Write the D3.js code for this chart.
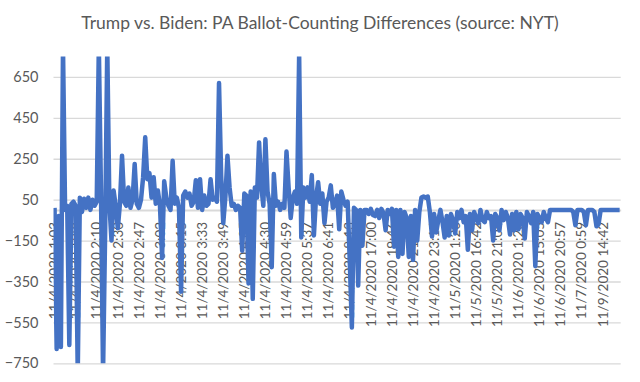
<!DOCTYPE html>
<html><head><meta charset="utf-8">
<script src="https://cdn.jsdelivr.net/npm/d3@7"></script>
<style>body{margin:0;background:#fff}</style>
</head><body>
<svg id="c" width="640" height="382"></svg>
<script>
const title = "Trump vs. Biden: PA Ballot-Counting Differences (source: NYT)";
const values = [
 10,-680,-30,-670,800,0,20,-660,30,40,
 20,-800,60,-10,55,10,60,0,50,20,
 40,800,100,-800,-100,800,30,-150,95,20,
 -90,30,265,40,20,110,10,50,225,30,
 10,50,160,355,150,180,60,160,30,95,
 20,-235,140,60,20,0,240,30,60,10,
 -400,70,90,60,80,20,40,145,10,150,
 0,70,20,30,150,50,60,40,620,170,
 -65,60,265,110,20,30,0,20,10,-200,
 80,70,-360,90,-435,110,60,330,120,20,
 345,90,30,-280,175,20,40,0,30,10,
 285,110,-40,60,90,30,760,-135,110,60,
 110,40,170,-125,60,135,30,80,-65,40,
 60,120,10,30,70,-95,90,50,20,40,
 -250,-575,10,0,-370,0,-175,0,0,-20,
 5,-25,-30,0,-40,5,-15,-100,0,-20,
 5,-180,0,-230,0,-215,-10,-40,-230,-30,
 -245,0,-150,-10,60,65,60,65,-10,-130,
 -20,-110,-50,0,-60,-135,-30,-125,-20,-50,
 -115,-10,-40,0,-60,-30,-195,-20,-100,-10,
 -40,-65,0,-50,-60,-10,-40,-30,-150,-20,
 -40,-100,0,-50,-10,-40,-120,-20,-100,-10,
 -95,-20,-40,-140,-10,-30,-65,-10,-275,-20,
 -40,-60,-10,-40,-60,0,0,0,0,0,
 0,0,0,0,0,0,-10,-75,0,0,
 0,-10,-75,0,0,0,-10,-80,-70,0,
 0,0,0,0,0,0,0,0,0
];
const tickLabels = [
 "11/4/2020 1:03","11/4/2020 1:48","11/4/2020 2:10","11/4/2020 2:30","11/4/2020 2:47",
 "11/4/2020 3:02","11/4/2020 3:15","11/4/2020 3:33","11/4/2020 3:49","11/4/2020 4:05",
 "11/4/2020 4:30","11/4/2020 4:59","11/4/2020 5:37","11/4/2020 6:41","11/4/2020 8:13",
 "11/4/2020 17:00","11/4/2020 19:46","11/4/2020 21:26","11/4/2020 23:14","11/5/2020 1:20",
 "11/5/2020 16:42","11/5/2020 21:04","11/6/2020 1:20","11/6/2020 15:05","11/6/2020 20:57",
 "11/7/2020 0:59","11/9/2020 14:42"
];
const yTicks = [-750,-550,-350,-150,50,250,450,650];
const labelEvery = 10;

const svg = d3.select("#c");
const x0 = 53.5, x1 = 620.7, yTop = 56.5, yBot = 363.3;
const x = d3.scaleBand().domain(d3.range(values.length)).range([x0, x1]);
const y = d3.scaleLinear().domain([-750, 750]).range([yBot, yTop]);
const cx = i => x(i) + x.bandwidth() / 2;
const font = "Lato, 'Open Sans', sans-serif";

svg.append("text").attr("x", 320).attr("y", 29).attr("text-anchor", "middle")
  .attr("font-family", font).attr("font-size", 17.5).attr("fill", "#595959").text(title);

// y axis + gridlines
const gy = svg.append("g").attr("transform", `translate(${x0},0)`)
  .call(d3.axisLeft(y).tickValues(yTicks).tickSize(-(x1 - x0)).tickPadding(15).tickFormat(d3.format("d")));
gy.select(".domain").remove();
gy.selectAll(".tick line").attr("stroke", "#d9d9d9").attr("stroke-width", 1.3);
gy.selectAll(".tick text").attr("font-family", font).attr("font-size", 14.5).attr("fill", "#595959");

// x axis at zero
const gx = svg.append("g").attr("transform", `translate(0,${y(0)})`)
  .call(d3.axisBottom(x).tickValues(d3.range(0, values.length, labelEvery).filter(i => i / labelEvery < tickLabels.length))
    .tickSize(0).tickSizeOuter(0).tickFormat(i => tickLabels[i / labelEvery]));
gx.select(".domain").attr("stroke", "#d9d9d9").attr("stroke-width", 2);
gx.selectAll(".tick text").attr("transform", "rotate(-90)").attr("text-anchor", "end")
  .attr("x", -12).attr("y", 0).attr("dy", "0.35em")
  .attr("font-family", font).attr("font-size", 13.5).attr("fill", "#595959");

// clip + line
svg.append("clipPath").attr("id", "clip").append("rect")
  .attr("x", x0).attr("y", yTop).attr("width", x1 - x0 + 2).attr("height", yBot - yTop);
const line = d3.line().x((d, i) => cx(i)).y(d => y(d));
svg.append("path").datum(values).attr("clip-path", "url(#clip)")
  .attr("fill", "none").attr("stroke", "#4472C4").attr("stroke-width", 4.5)
  .attr("stroke-linejoin", "round").attr("d", line);
</script>
</body></html>
